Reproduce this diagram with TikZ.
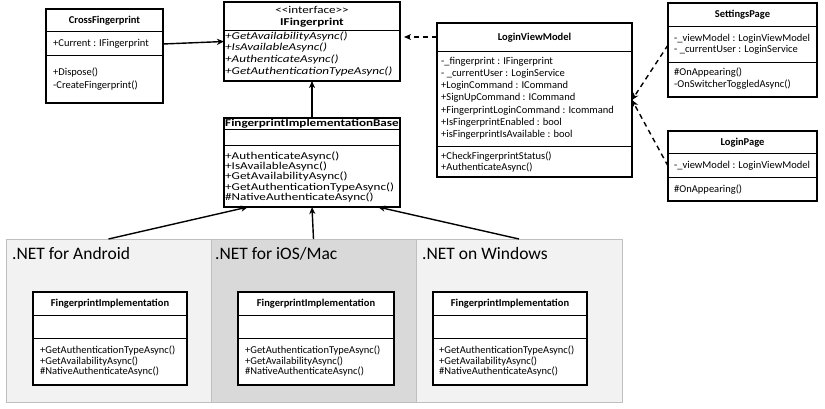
\documentclass[tikz,border=0pt]{standalone}
\usepackage{fontspec}
\setmainfont{Carlito}
\newfontfamily\widefont[FakeStretch=1.25]{Carlito}
\usetikzlibrary{arrows.meta,calc}
\definecolor{panelL}{HTML}{F2F2F2}
\definecolor{panelD}{HTML}{D9D9D9}
\definecolor{panelB}{HTML}{BFBFBF}
\begin{document}
\begin{tikzpicture}[x=1pt,y=-1pt,
  cls/.style={draw=black, line width=1.2pt, fill=white, inner sep=0pt, outer sep=0pt},
  sepl/.style={draw=black, line width=1pt},
  mem/.style={anchor=west, inner sep=0pt, text height=7pt, text depth=2pt, font=\fontsize{10.5}{12}\selectfont},
  ttl/.style={inner sep=0pt, text height=7pt, text depth=2pt, font=\fontsize{10.5}{12}\selectfont\bfseries},
  wmem/.style={anchor=west, inner sep=0pt, text height=7pt, text depth=2pt, font=\widefont\fontsize{10.5}{12}\selectfont},
  wttl/.style={inner sep=0pt, text height=7pt, text depth=2pt, font=\widefont\fontsize{10.5}{12}\selectfont},
  panel/.style={draw=panelB, line width=0.6pt, inner sep=0pt, outer sep=0pt},
  ptitle/.style={anchor=west, inner sep=0pt, text height=11pt, text depth=3pt, font=\fontsize{17.5}{20}\selectfont},
  inh/.style={line width=1.4pt, -{Stealth[length=7pt,width=6pt,inset=2pt]}},
  dep/.style={line width=1.4pt, dash pattern=on 5pt off 4pt, -{Stealth[length=7pt,width=6pt,inset=2pt]}},
]
\useasboundingbox (0,0) rectangle (825,409);

% platform panels
\node[panel, fill=panelL, minimum width=205pt, minimum height=163pt] (p1) at (108.5,320.5) {};
\node[panel, fill=panelD, minimum width=205pt, minimum height=163pt] (p2) at (313.5,320.5) {};
\node[panel, fill=panelL, minimum width=206pt, minimum height=163pt] (p3) at (519,320.5) {};
\node[ptitle] (p1t) at (12,255) {.NET for Android};
\node[ptitle] (p2t) at (215,255) {.NET for iOS/Mac};
\node[ptitle] (p3t) at (422,255) {.NET on Windows};

% CrossFingerprint
\node[cls, minimum width=117pt, minimum height=94pt] (cf) at (104.5,56) {};
\node[ttl] (cft) at (104.5,21) {CrossFingerprint};
\draw[sepl] (cf.west |- 0,32) -- (cf.east |- 0,32);
\draw[sepl] (cf.west |- 0,56) -- (cf.east |- 0,56);
\node[mem] (cfa) at (53,44) {+Current : IFingerprint};
\node[mem] (cfm1) at (53,73) {+Dispose()};
\node[mem] (cfm2) at (53,86) {-CreateFingerprint()};

% IFingerprint
\node[cls, minimum width=176pt, minimum height=79pt] (ifp) at (312,41.5) {};
\node[wttl] (ifps) at (312,11) {<{}<interface>{}>};
\node[wttl, font=\widefont\fontsize{10.5}{12}\selectfont\bfseries] (ifpt) at (312,23) {IFingerprint};
\draw[sepl] (ifp.west |- 0,31) -- (ifp.east |- 0,31);
\node[wmem, font=\widefont\fontsize{10.5}{12}\selectfont\itshape] (ifp1) at (225,37) {+GetAvailabilityAsync()};
\node[wmem, font=\widefont\fontsize{10.5}{12}\selectfont\itshape] (ifp2) at (225,48.5) {+IsAvailableAsync()};
\node[wmem, font=\widefont\fontsize{10.5}{12}\selectfont\itshape] (ifp3) at (225,60) {+AuthenticateAsync()};
\node[wmem, font=\widefont\fontsize{10.5}{12}\selectfont\itshape] (ifp4) at (225,72) {+GetAuthenticationTypeAsync()};

% FingerprintImplementationBase
\node[cls, minimum width=176pt, minimum height=89pt] (base) at (312,162.5) {};
\node[wttl, font=\widefont\fontsize{10.5}{12}\selectfont\bfseries] (baset) at (312,124.5) {FingerprintImplementationBase};
\draw[sepl] (base.west |- 0,130) -- (base.east |- 0,130);
\draw[sepl] (base.west |- 0,146) -- (base.east |- 0,146);
\node[wmem] (b1) at (225,157) {+AuthenticateAsync()};
\node[wmem] (b2) at (225,167) {+IsAvailableAsync()};
\node[wmem] (b3) at (225,177) {+GetAvailabilityAsync()};
\node[wmem] (b4) at (225,187.5) {+GetAuthenticationTypeAsync()};
\node[wmem] (b5) at (225,198) {\#NativeAuthenticateAsync()};

% LoginViewModel
\node[cls, minimum width=195pt, minimum height=154pt] (lvm) at (534.5,100) {};
\node[ttl] (lvmt) at (534.5,38) {LoginViewModel};
\draw[sepl] (lvm.west |- 0,52) -- (lvm.east |- 0,52);
\draw[sepl] (lvm.west |- 0,147) -- (lvm.east |- 0,147);
\node[mem] (l1) at (441,62) {-\_fingerprint : IFingerprint};
\node[mem] (l2) at (441,74) {- \_currentUser : LoginService};
\node[mem] (l3) at (441,86) {+LoginCommand : ICommand};
\node[mem] (l4) at (441,98.5) {+SignUpCommand : ICommand};
\node[mem] (l5) at (441,111) {+FingerprintLoginCommand : Icommand};
\node[mem] (l6) at (441,123) {+IsFingerprintEnabled : bool};
\node[mem] (l7) at (441,135.5) {+isFingerprintIsAvailable : bool};
\node[mem] (l8) at (441,157) {+CheckFingerprintStatus()};
\node[mem] (l9) at (441,168) {+AuthenticateAsync()};

% SettingsPage
\node[cls, minimum width=149pt, minimum height=94pt] (sp) at (742.5,50) {};
\node[ttl] (spt) at (742.5,15) {SettingsPage};
\draw[sepl] (sp.west |- 0,27) -- (sp.east |- 0,27);
\draw[sepl] (sp.west |- 0,63) -- (sp.east |- 0,63);
\node[mem] (s1) at (674,39) {-\_viewModel : LoginViewModel};
\node[mem] (s2) at (674,50) {- \_currentUser : LoginService};
\node[mem] (s3) at (674,73) {\#OnAppearing()};
\node[mem] (s4) at (674,85) {-OnSwitcherToggledAsync()};

% LoginPage
\node[cls, minimum width=149pt, minimum height=70pt] (lp) at (742.5,166) {};
\node[ttl] (lpt) at (742.5,143) {LoginPage};
\draw[sepl] (lp.west |- 0,154) -- (lp.east |- 0,154);
\draw[sepl] (lp.west |- 0,178) -- (lp.east |- 0,178);
\node[mem] (lp1) at (674,165.5) {-\_viewModel : LoginViewModel};
\node[mem] (lp2) at (674,190) {\#OnAppearing()};

% Platform implementations
\node[cls, minimum width=154pt, minimum height=93pt] (i1) at (110,338.5) {};
\node[ttl] (i1t) at (110,304) {FingerprintImplementation};
\draw[sepl] (i1.west |- 0,315) -- (i1.east |- 0,315);
\draw[sepl] (i1.west |- 0,338) -- (i1.east |- 0,338);
\node[mem] (i1a) at (40,351) {+GetAuthenticationTypeAsync()};
\node[mem] (i1b) at (40,361.5) {+GetAvailabilityAsync()};
\node[mem] (i1c) at (40,372) {\#NativeAuthenticateAsync()};

\node[cls, minimum width=156pt, minimum height=93pt] (i2) at (316,338.5) {};
\node[ttl] (i2t) at (316,304) {FingerprintImplementation};
\draw[sepl] (i2.west |- 0,315) -- (i2.east |- 0,315);
\draw[sepl] (i2.west |- 0,338) -- (i2.east |- 0,338);
\node[mem] (i2a) at (245,351) {+GetAuthenticationTypeAsync()};
\node[mem] (i2b) at (245,361.5) {+GetAvailabilityAsync()};
\node[mem] (i2c) at (245,372) {\#NativeAuthenticateAsync()};

\node[cls, minimum width=154pt, minimum height=93pt] (i3) at (510,338.5) {};
\node[ttl] (i3t) at (510,304) {FingerprintImplementation};
\draw[sepl] (i3.west |- 0,315) -- (i3.east |- 0,315);
\draw[sepl] (i3.west |- 0,338) -- (i3.east |- 0,338);
\node[mem] (i3a) at (439,351) {+GetAuthenticationTypeAsync()};
\node[mem] (i3b) at (439,361.5) {+GetAvailabilityAsync()};
\node[mem] (i3c) at (439,372) {\#NativeAuthenticateAsync()};

% connectors
\draw[inh] ([yshift=12pt]cf.east) -- (ifp.west);
\draw[inh] (base.north) -- (ifp.south);
\coordinate (dA) at ([yshift=-14pt]lvm.north west);
\draw[dep, shorten >=4pt] (dA) -- (dA -| ifp.east);
\draw[dep] ([yshift=5pt]sp.west) -- (lvm.east);
\draw[dep] (lp.west) -- (lvm.east);
\draw[inh] (p1.north) -- ([xshift=24pt]base.south west);
\draw[inh] (p2.north) -- (base.south);
\draw[inh] (p3.north) -- ([xshift=-22pt]base.south east);
\end{tikzpicture}
\end{document}
